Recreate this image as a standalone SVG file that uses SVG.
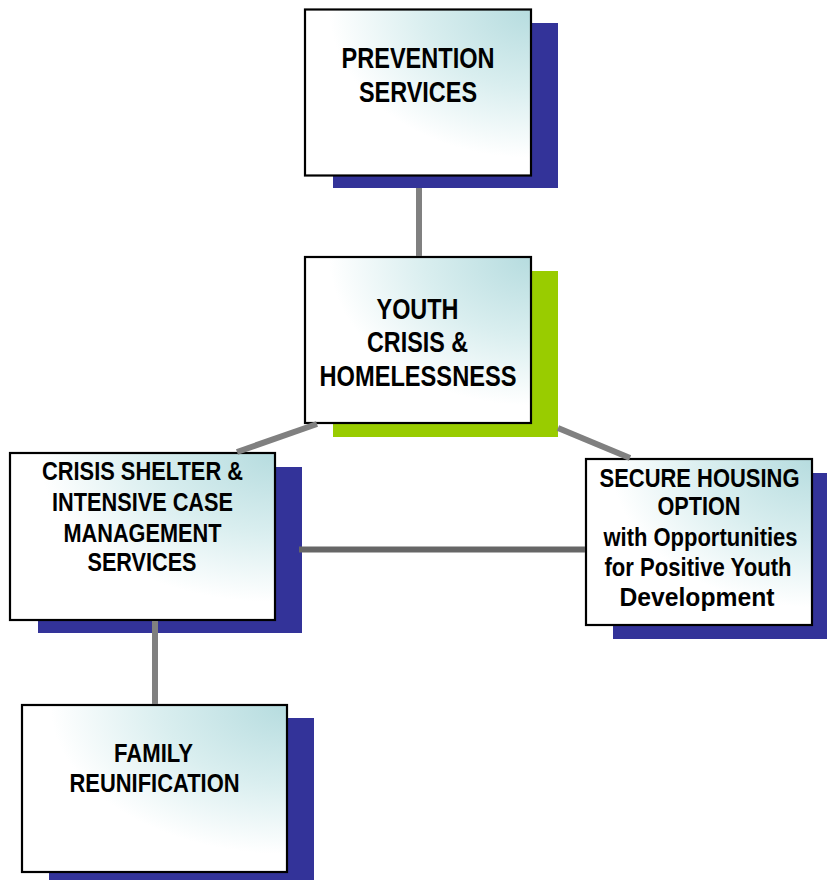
<svg xmlns="http://www.w3.org/2000/svg" width="827" height="880" viewBox="0 0 827 880">
  <defs>
    <radialGradient id="boxfill" cx="1" cy="0" r="1.05" fx="1" fy="0">
      <stop offset="0" stop-color="#b6dcdf"/>
      <stop offset="0.45" stop-color="#d9eeef"/>
      <stop offset="0.85" stop-color="#ffffff"/>
      <stop offset="1" stop-color="#ffffff"/>
    </radialGradient>
  </defs>
  <style>
    .box { fill: url(#boxfill); stroke: #000000; stroke-width: 2.2; }
    .sh-blue { fill: #333399; }
    .sh-green { fill: #99cc00; }
    .lbl { font-family: "Liberation Sans Narrow", "Arial Narrow", "Liberation Sans", Arial, sans-serif; font-weight: bold; fill: #000000; text-anchor: middle; }
    .big { font-size: 29px; }
    .sm { font-size: 26px; }
    .conn { stroke: #808080; stroke-width: 6; fill: none; stroke-linecap: butt; }
    .conn-dark { stroke: #666666; }
  </style>

  <g id="prevention">
    <rect class="sh-blue" x="333" y="23" width="225" height="165"/>
    <rect class="box" x="305" y="9.5" width="226" height="166"/>
    <text class="lbl big" x="418" y="68" textLength="153" lengthAdjust="spacingAndGlyphs">PREVENTION</text>
    <text class="lbl big" x="418" y="101.5" textLength="118" lengthAdjust="spacingAndGlyphs">SERVICES</text>
  </g>

  <g id="youth-crisis">
    <rect class="sh-green" x="333" y="271" width="225" height="166"/>
    <rect class="box" x="305" y="257" width="226" height="166"/>
    <text class="lbl big" x="417.5" y="319" textLength="82" lengthAdjust="spacingAndGlyphs">YOUTH</text>
    <text class="lbl big" x="417.5" y="351.5" textLength="101" lengthAdjust="spacingAndGlyphs">CRISIS &amp;</text>
    <text class="lbl big" x="418" y="385.5" textLength="197" lengthAdjust="spacingAndGlyphs">HOMELESSNESS</text>
  </g>

  <g id="crisis-shelter">
    <rect class="sh-blue" x="38" y="467" width="264" height="166"/>
    <rect class="box" x="10" y="453" width="265" height="167"/>
    <text class="lbl sm" x="142.5" y="480" textLength="201" lengthAdjust="spacingAndGlyphs">CRISIS SHELTER &amp;</text>
    <text class="lbl sm" x="142.5" y="510.5" textLength="181" lengthAdjust="spacingAndGlyphs">INTENSIVE CASE</text>
    <text class="lbl sm" x="142.5" y="541.5" textLength="158" lengthAdjust="spacingAndGlyphs">MANAGEMENT</text>
    <text class="lbl sm" x="142" y="570.5" textLength="109" lengthAdjust="spacingAndGlyphs">SERVICES</text>
  </g>

  <g id="secure-housing">
    <rect class="sh-blue" x="613" y="473" width="214" height="166"/>
    <rect class="box" x="586" y="459" width="226" height="166"/>
    <text class="lbl sm" x="699.5" y="486.5" textLength="200" lengthAdjust="spacingAndGlyphs">SECURE HOUSING</text>
    <text class="lbl sm" x="699" y="515" textLength="83" lengthAdjust="spacingAndGlyphs">OPTION</text>
    <text class="lbl sm" x="700.5" y="545.5" textLength="194" lengthAdjust="spacingAndGlyphs">with Opportunities</text>
    <text class="lbl sm" x="698" y="576" textLength="187" lengthAdjust="spacingAndGlyphs">for Positive Youth</text>
    <text class="lbl sm" x="697" y="606" textLength="155" lengthAdjust="spacingAndGlyphs">Development</text>
  </g>

  <g id="family-reunification">
    <rect class="sh-blue" x="49" y="718" width="265" height="162"/>
    <rect class="box" x="22" y="705" width="265" height="167"/>
    <text class="lbl sm" x="153.5" y="761.5" textLength="79" lengthAdjust="spacingAndGlyphs">FAMILY</text>
    <text class="lbl sm" x="154.5" y="791.5" textLength="170" lengthAdjust="spacingAndGlyphs">REUNIFICATION</text>
  </g>

  <g id="connectors">
    <line class="conn" x1="419" y1="188" x2="419" y2="256"/>
    <line class="conn" x1="317" y1="424" x2="237" y2="452"/>
    <line class="conn" x1="558" y1="428" x2="630" y2="458"/>
    <line class="conn conn-dark" x1="299" y1="549.5" x2="585" y2="549.5"/>
    <line class="conn" x1="155" y1="621" x2="155" y2="704"/>
  </g>
</svg>
